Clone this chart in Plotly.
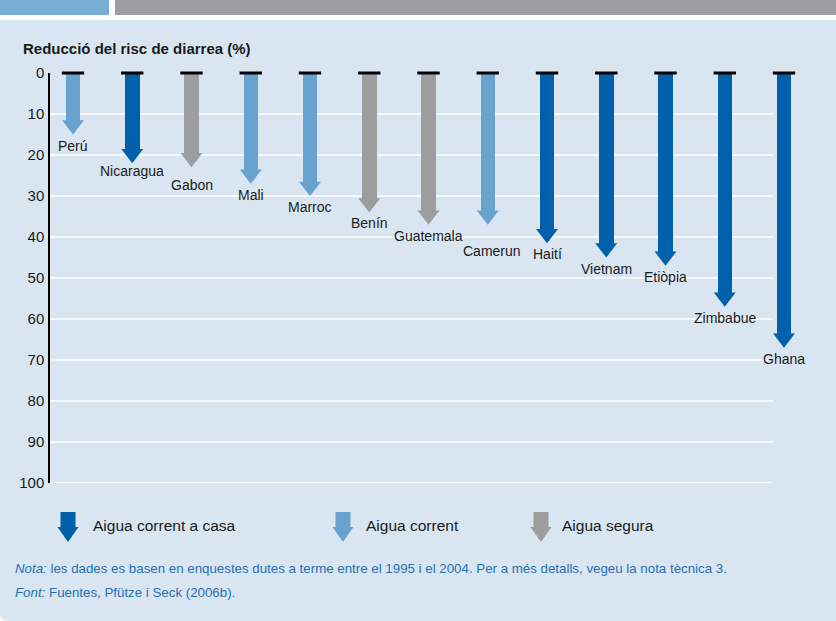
import plotly.graph_objects as go

# ---- data ----
countries = ["Perú", "Nicaragua", "Gabon", "Mali", "Marroc", "Benín", "Guatemala",
             "Camerun", "Haití", "Vietnam", "Etiòpia", "Zimbabue", "Ghana"]
reduction = [15, 22, 23, 27, 30, 34, 37, 37, 41.5, 45, 47, 57, 67]
water_type = ["corrent", "casa", "segura", "corrent", "corrent", "segura", "segura",
              "corrent", "casa", "casa", "casa", "casa", "casa"]
y_ticks = [0, 10, 20, 30, 40, 50, 60, 70, 80, 90, 100]
legend_labels = {"casa": "Aigua corrent a casa", "corrent": "Aigua corrent", "segura": "Aigua segura"}

# ---- style ----
W, H = 836, 621
COLORS = {"casa": "#0060a9", "corrent": "#6aa2ce", "segura": "#9c9d9f"}
PANEL = "#d9e6f1"
TEXT = "#1a1a1a"
NOTE = "#2570b4"
FONT = "Liberation Sans"

PLOT_L, PLOT_R, PLOT_T, PLOT_B = 50, 800, 73, 483
FIRST_X, STEP = 73, 59.25
PX_PER_UNIT = (PLOT_B - PLOT_T) / 100.0
HEAD_SIZE = 19
head_r = HEAD_SIZE / 2.0
label_shift = {"Nicaragua": 8, "Gabon": 18, "Camerun": 26}
label_xshift = {"Camerun": 4}

def px(x):
    return x / W

def py(y):
    return 1 - y / H

idx = list(range(len(countries)))
cols = [COLORS[t] for t in water_type]

fig = go.Figure()

# shafts
fig.add_trace(go.Bar(
    x=idx, y=[v - (head_r * 1.5 - 1) / PX_PER_UNIT for v in reduction], base=0,
    width=14.5 / STEP, marker=dict(color=cols, line=dict(width=0)),
    showlegend=False, hoverinfo="skip"))
# heads
fig.add_trace(go.Scatter(
    x=idx, y=[v - head_r / PX_PER_UNIT for v in reduction], mode="markers",
    marker=dict(symbol="triangle-down", size=HEAD_SIZE, color=cols, line=dict(width=0)),
    showlegend=False, cliponaxis=False, hoverinfo="skip"))
# caps
fig.add_trace(go.Scatter(
    x=idx, y=[0] * len(idx), mode="markers",
    marker=dict(symbol="line-ew", size=16, line=dict(width=3, color="#000000")),
    showlegend=False, cliponaxis=False, hoverinfo="skip"))

shapes = []
# panel background with rounded bottom-left corner
r = 8
shapes.append(dict(type="path", xref="paper", yref="paper",
                   path=f"M {px(0)},{py(20)} L {px(W)},{py(20)} L {px(W)},{py(H)} "
                        f"L {px(r)},{py(H)} Q {px(0)},{py(H)} {px(0)},{py(H - r)} Z",
                   fillcolor=PANEL, line=dict(width=0), layer="below"))
# header bars
shapes.append(dict(type="rect", xref="paper", yref="paper", x0=px(0), x1=px(109),
                   y0=py(0), y1=py(15), fillcolor="#78aed7", line=dict(width=0), layer="below"))
shapes.append(dict(type="rect", xref="paper", yref="paper", x0=px(115), x1=px(W),
                   y0=py(0), y1=py(15), fillcolor="#9d9ea0", line=dict(width=0), layer="below"))
# gridlines
for t in y_ticks[1:]:
    shapes.append(dict(type="line", xref="x", yref="y",
                       x0=(PLOT_L - FIRST_X) / STEP, x1=(773 - FIRST_X) / STEP, y0=t, y1=t,
                       line=dict(color="#ffffff", width=1.5), layer="below"))

annotations = []
for i, (c, v) in enumerate(zip(countries, reduction)):
    annotations.append(dict(x=i, y=v, xref="x", yref="y", text=c, showarrow=False,
                            yanchor="middle", xanchor="center",
                            yshift=-label_shift.get(c, 11), xshift=label_xshift.get(c, 0),
                            font=dict(family=FONT, size=14, color=TEXT)))

# legend (manual arrow glyphs)
leg_items = [("casa", 68, 91), ("corrent", 343, 364), ("segura", 541, 560)]
for key, cx, tx in leg_items:
    shapes.append(dict(type="rect", xref="paper", yref="paper",
                       x0=px(cx - 7.5), x1=px(cx + 7.5), y0=py(512), y1=py(528),
                       fillcolor=COLORS[key], line=dict(width=0)))
    shapes.append(dict(type="path", xref="paper", yref="paper",
                       path=f"M {px(cx - 10.5)},{py(527)} L {px(cx + 10.5)},{py(527)} L {px(cx)},{py(542)} Z",
                       fillcolor=COLORS[key], line=dict(width=0)))
    annotations.append(dict(x=px(tx), y=py(525), xref="paper", yref="paper",
                            text=legend_labels[key], showarrow=False, xanchor="left",
                            yanchor="middle", font=dict(family=FONT, size=15.5, color=TEXT)))

# title
annotations.append(dict(x=px(21), y=py(48), xref="paper", yref="paper",
                        text="<b>Reducció del risc de diarrea (%)</b>", showarrow=False,
                        xanchor="left", yanchor="middle",
                        font=dict(family=FONT, size=15, color=TEXT)))
# notes
annotations.append(dict(x=px(13), y=py(568), xref="paper", yref="paper",
                        text="<i>Nota:</i> les dades es basen en enquestes dutes a terme entre el 1995 i el 2004. "
                             "Per a més detalls, vegeu la nota tècnica 3.",
                        showarrow=False, xanchor="left", yanchor="middle",
                        font=dict(family=FONT, size=13.3, color=NOTE)))
annotations.append(dict(x=px(13), y=py(592), xref="paper", yref="paper",
                        text="<i>Font:</i> Fuentes, Pfütze i Seck (2006b).",
                        showarrow=False, xanchor="left", yanchor="middle",
                        font=dict(family=FONT, size=13.3, color=NOTE)))

fig.update_layout(
    template="none",
    width=W, height=H, margin=dict(l=0, r=0, t=0, b=0, pad=0, autoexpand=False),
    paper_bgcolor="#ffffff", plot_bgcolor="rgba(0,0,0,0)",
    shapes=shapes, annotations=annotations, bargap=0,
    xaxis=dict(domain=[px(PLOT_L), px(PLOT_R)], automargin=False,
               range=[-(FIRST_X - PLOT_L) / STEP, (PLOT_R - FIRST_X) / STEP],
               showgrid=False, zeroline=False, showticklabels=False, showline=False,
               ticks="", fixedrange=True),
    yaxis=dict(domain=[py(PLOT_B), py(PLOT_T)], range=[100, 0], automargin=False,
               tickvals=y_ticks, ticktext=[str(t) for t in y_ticks],
               showgrid=False, zeroline=False, showline=True, linecolor="#000000", linewidth=1.5,
               ticks="", ticklabelstandoff=1,
               tickfont=dict(family=FONT, size=15, color=TEXT), fixedrange=True),
    font=dict(family=FONT),
)

fig.write_html(
    "out.html", config={"displayModeBar": False},
    post_script=("document.documentElement.style.margin='0';document.body.style.margin='0';"
                 "document.body.style.padding='0';document.body.style.overflow='hidden';"
                 "var d=document.getElementById('{plot_id}');d.style.position='fixed';"
                 "d.style.top='0px';d.style.left='0px';"))
